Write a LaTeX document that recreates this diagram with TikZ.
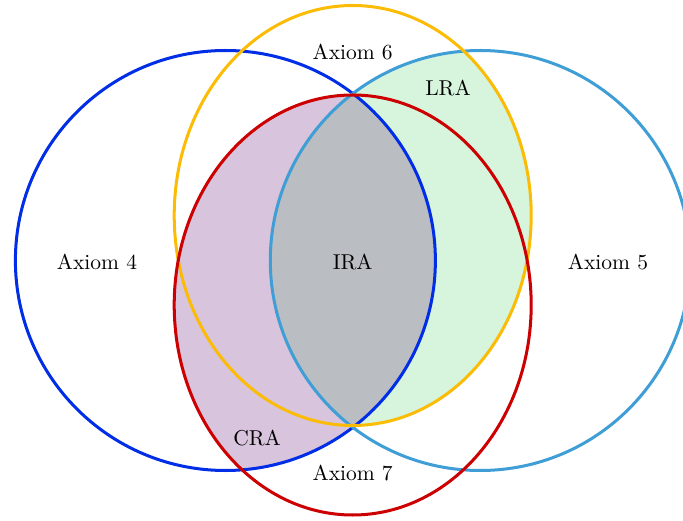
\documentclass[tikz,border=0pt]{standalone}
\definecolor{axfour}{RGB}{0,45,230}
\definecolor{axfive}{RGB}{64,158,214}
\definecolor{axsix}{RGB}{252,188,5}
\definecolor{axseven}{RGB}{204,0,0}
\definecolor{crafill}{RGB}{216,196,220}
\definecolor{lrafill}{RGB}{214,245,220}
\definecolor{irafill}{RGB}{186,189,193}
\tikzset{axline/.style={line width=1.4pt}}
\begin{document}
\begin{tikzpicture}[x=0.465pt,y=0.465pt]
  \useasboundingbox (0,0) rectangle (683,521);
  % shaded regions
  \begin{scope}
    \clip (352.7,216) ellipse (178.5 and 210);
    \clip (225.4,260.5) circle (210);
    \fill[crafill] (0,0) rectangle (683,521);
  \end{scope}
  \begin{scope}
    \clip (352.7,305.5) ellipse (178.5 and 210);
    \clip (480.3,260.5) circle (210);
    \fill[lrafill] (0,0) rectangle (683,521);
  \end{scope}
  \begin{scope}
    \clip (225.4,260.5) circle (210);
    \clip (480.3,260.5) circle (210);
    \fill[irafill] (0,0) rectangle (683,521);
  \end{scope}
  % outlines of the four axioms
  \foreach \cx/\cy/\rx/\col in {225.4/260.5/210/axfour,480.3/260.5/210/axfive,352.7/305.5/178.5/axsix,352.7/216/178.5/axseven} {
    \draw[axline,\col] (\cx,\cy) ellipse [x radius=\rx, y radius=210];
  }
  \node (ax4) at (97,259) {Axiom 4};
  \node (ax5) at (608,259) {Axiom 5};
  \node (ax6) at (352.7,469) {Axiom 6};
  \node (ax7) at (352.7,48) {Axiom 7};
  \node (lra) at (448,433) {LRA};
  \node (ira) at (352.7,259) {IRA};
  \node (cra) at (257,83) {CRA};
\end{tikzpicture}
\end{document}
